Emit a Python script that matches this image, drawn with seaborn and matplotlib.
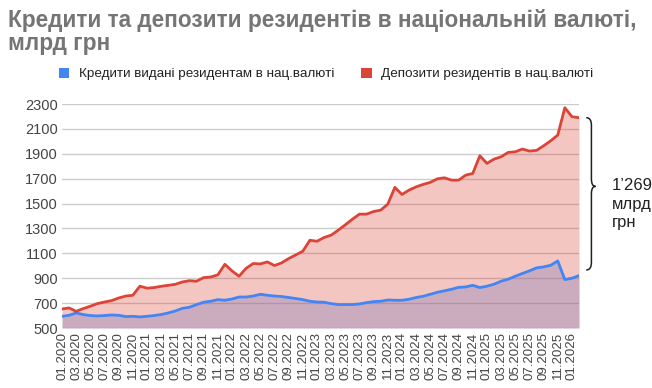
import numpy as np
import pandas as pd
import matplotlib
matplotlib.use("Agg")
import matplotlib.pyplot as plt
from matplotlib.path import Path
from matplotlib.patches import PathPatch, Patch
from matplotlib.transforms import blended_transform_factory
import seaborn as sns

# ---------------- data ----------------
months = pd.date_range("2020-01-01", periods=74, freq="MS").strftime("%m.%Y").tolist()

loans = [594, 602, 621, 608, 600, 597, 600, 605, 602, 592, 594, 589, 594, 600, 608, 621,
         637, 658, 667, 688, 707, 715, 728, 723, 733, 749, 749, 757, 771, 763, 757, 753,
         745, 737, 728, 715, 709, 707, 696, 688, 688, 688, 693, 704, 712, 715, 725, 723,
         723, 731, 745, 755, 771, 787, 799, 811, 827, 830, 843, 825, 836, 852, 876, 892,
         916, 938, 959, 983, 991, 1004, 1039, 889, 900, 921]

deposits = [653, 661, 634, 656, 675, 696, 709, 720, 741, 757, 763, 836, 820, 825, 835, 843,
            851, 870, 880, 876, 905, 910, 927, 1012, 959, 916, 980, 1018, 1015, 1031, 1002,
            1023, 1058, 1087, 1117, 1205, 1197, 1227, 1246, 1286, 1329, 1374, 1415, 1415,
            1436, 1447, 1495, 1630, 1573, 1608, 1634, 1654, 1670, 1699, 1707, 1688, 1688,
            1728, 1742, 1884, 1823, 1857, 1876, 1911, 1916, 1938, 1922, 1927, 1964, 2004,
            2050, 2270, 2198, 2190]

series_names = ["Кредити видані резидентам в нац.валюті", "Депозити резидентів в нац.валюті"]
yticks = [500, 700, 900, 1100, 1300, 1500, 1700, 1900, 2100, 2300]
title = "Кредити та депозити резидентів в національній валюті,\nмлрд грн"

BLUE = "#4285F4"
RED = "#DB4437"

df = pd.DataFrame({"idx": np.arange(len(months)), "month": months,
                   "loans": loans, "deposits": deposits})

# ---------------- figure ----------------
sns.set_theme(style="white")
plt.rcParams["font.family"] = ["Liberation Sans", "DejaVu Sans"]

fig = plt.figure(figsize=(6.52, 3.88), dpi=100)
ax = fig.add_axes([62 / 652, 1 - 328 / 388, (579 - 62) / 652, (328 - 104) / 388])

base = yticks[0]
ax.fill_between(df["idx"], base, df["loans"], color=BLUE, alpha=0.3, lw=0, zorder=2)
ax.fill_between(df["idx"], base, df["deposits"], color=RED, alpha=0.3, lw=0, zorder=3)
sns.lineplot(data=df, x="idx", y="loans", color=BLUE, lw=2, ax=ax, zorder=5)
sns.lineplot(data=df, x="idx", y="deposits", color=RED, lw=2, ax=ax, zorder=5)

ax.set_xlim(0, len(months) - 1)
ax.set_ylim(yticks[0], yticks[-1])
ax.set_yticks(yticks)
ax.set_yticklabels([str(v) for v in yticks], fontsize=10.5, color="#444444")
tick_pos = df["idx"][::2]
ax.set_xticks(tick_pos)
ax.set_xticklabels(df["month"][::2], rotation=90, fontsize=9.5, color="#444444")
ax.tick_params(axis="both", length=0, pad=3)
ax.set_xlabel("")
ax.set_ylabel("")
ax.grid(axis="y", color="#cccccc", lw=1, zorder=1)
ax.set_axisbelow(True)
for s in ax.spines.values():
    s.set_visible(False)

# title
fig.text(8 / 652, 1 - 9 / 388, title, fontsize=16.3, fontweight="bold", color="#757575",
         ha="left", va="top", linespacing=0.98)

# legend
handles = [Patch(facecolor=BLUE, edgecolor="none"), Patch(facecolor=RED, edgecolor="none")]
fig.legend(handles, series_names, loc="center", bbox_to_anchor=(326 / 652, 1 - 74 / 388),
           ncol=2, frameon=False, fontsize=9.7, handlelength=0.8, handleheight=0.8,
           handletextpad=0.7, columnspacing=2.0, labelcolor="#222222")

# brace between last loans and last deposits value
trans = blended_transform_factory(ax.transAxes, ax.transData)
ytop = deposits[-1]
ybot = loans[-1] + 45
ym = (ytop + ybot) / 2 + 60
x0, x1, x2 = 1.014, 1.024, 1.032
d = 60
verts = [(x0, ytop), (x1, ytop), (x1, ytop - d),
         (x1, ym + d), (x1, ym), (x2, ym),
         (x1, ym), (x1, ym - d),
         (x1, ybot + d), (x1, ybot), (x0, ybot)]
codes = [Path.MOVETO, Path.CURVE3, Path.CURVE3,
         Path.LINETO, Path.CURVE3, Path.CURVE3,
         Path.CURVE3, Path.CURVE3,
         Path.LINETO, Path.CURVE3, Path.CURVE3]
ax.add_patch(PathPatch(Path(verts, codes), transform=trans, fill=False,
                       edgecolor="#222222", lw=1.1, clip_on=False))

diff = deposits[-1] - loans[-1]
label = f"{diff:,}".replace(",", "’") + "\nмлрд\nгрн"
fig.text(612 / 652, 1 - 204 / 388, label, fontsize=12, color="#222222",
         ha="left", va="center", linespacing=1.3)

fig.savefig("out.png", dpi=100)
